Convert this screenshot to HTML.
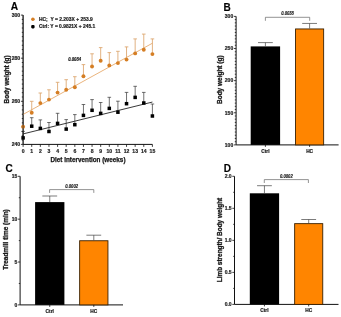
<!DOCTYPE html>
<html><head><meta charset="utf-8"><style>
html,body{margin:0;padding:0;background:#fff;}
body{width:341px;height:317px;overflow:hidden;font-family:"Liberation Sans",sans-serif;}
svg{display:block;will-change:transform;}
</style></head><body>
<svg width="341" height="317" viewBox="0 0 341 317">
<rect width="341" height="317" fill="#fff"/>
<text x="10.8" y="10.1" font-family="Liberation Sans, sans-serif" font-weight="bold" stroke="#222" stroke-width="0.18" font-size="10.2" fill="#000">A</text>
<line x1="23.1" y1="15.100000000000023" x2="23.1" y2="144.4" stroke="#111" stroke-width="1.0"/>
<line x1="20.900000000000002" y1="144.40" x2="23.1" y2="144.40" stroke="#111" stroke-width="0.8"/>
<line x1="21.8" y1="140.09" x2="23.1" y2="140.09" stroke="#111" stroke-width="0.8"/>
<line x1="21.8" y1="135.78" x2="23.1" y2="135.78" stroke="#111" stroke-width="0.8"/>
<line x1="21.8" y1="131.47" x2="23.1" y2="131.47" stroke="#111" stroke-width="0.8"/>
<line x1="21.8" y1="127.16" x2="23.1" y2="127.16" stroke="#111" stroke-width="0.8"/>
<line x1="21.8" y1="122.85" x2="23.1" y2="122.85" stroke="#111" stroke-width="0.8"/>
<line x1="21.8" y1="118.54" x2="23.1" y2="118.54" stroke="#111" stroke-width="0.8"/>
<line x1="21.8" y1="114.23" x2="23.1" y2="114.23" stroke="#111" stroke-width="0.8"/>
<line x1="21.8" y1="109.92" x2="23.1" y2="109.92" stroke="#111" stroke-width="0.8"/>
<line x1="21.8" y1="105.61" x2="23.1" y2="105.61" stroke="#111" stroke-width="0.8"/>
<line x1="20.900000000000002" y1="101.30" x2="23.1" y2="101.30" stroke="#111" stroke-width="0.8"/>
<line x1="21.8" y1="96.99" x2="23.1" y2="96.99" stroke="#111" stroke-width="0.8"/>
<line x1="21.8" y1="92.68" x2="23.1" y2="92.68" stroke="#111" stroke-width="0.8"/>
<line x1="21.8" y1="88.37" x2="23.1" y2="88.37" stroke="#111" stroke-width="0.8"/>
<line x1="21.8" y1="84.06" x2="23.1" y2="84.06" stroke="#111" stroke-width="0.8"/>
<line x1="21.8" y1="79.75" x2="23.1" y2="79.75" stroke="#111" stroke-width="0.8"/>
<line x1="21.8" y1="75.44" x2="23.1" y2="75.44" stroke="#111" stroke-width="0.8"/>
<line x1="21.8" y1="71.13" x2="23.1" y2="71.13" stroke="#111" stroke-width="0.8"/>
<line x1="21.8" y1="66.82" x2="23.1" y2="66.82" stroke="#111" stroke-width="0.8"/>
<line x1="21.8" y1="62.51" x2="23.1" y2="62.51" stroke="#111" stroke-width="0.8"/>
<line x1="20.900000000000002" y1="58.20" x2="23.1" y2="58.20" stroke="#111" stroke-width="0.8"/>
<line x1="21.8" y1="53.89" x2="23.1" y2="53.89" stroke="#111" stroke-width="0.8"/>
<line x1="21.8" y1="49.58" x2="23.1" y2="49.58" stroke="#111" stroke-width="0.8"/>
<line x1="21.8" y1="45.27" x2="23.1" y2="45.27" stroke="#111" stroke-width="0.8"/>
<line x1="21.8" y1="40.96" x2="23.1" y2="40.96" stroke="#111" stroke-width="0.8"/>
<line x1="21.8" y1="36.65" x2="23.1" y2="36.65" stroke="#111" stroke-width="0.8"/>
<line x1="21.8" y1="32.34" x2="23.1" y2="32.34" stroke="#111" stroke-width="0.8"/>
<line x1="21.8" y1="28.03" x2="23.1" y2="28.03" stroke="#111" stroke-width="0.8"/>
<line x1="21.8" y1="23.72" x2="23.1" y2="23.72" stroke="#111" stroke-width="0.8"/>
<line x1="21.8" y1="19.41" x2="23.1" y2="19.41" stroke="#111" stroke-width="0.8"/>
<line x1="20.900000000000002" y1="15.10" x2="23.1" y2="15.10" stroke="#111" stroke-width="0.8"/>
<text x="20.200000000000003" y="146.25" font-family="Liberation Sans, sans-serif" font-weight="bold" stroke="#222" stroke-width="0.18" font-size="5.1" text-anchor="end" fill="#222">240</text>
<text x="20.200000000000003" y="103.15" font-family="Liberation Sans, sans-serif" font-weight="bold" stroke="#222" stroke-width="0.18" font-size="5.1" text-anchor="end" fill="#222">260</text>
<text x="20.200000000000003" y="60.05" font-family="Liberation Sans, sans-serif" font-weight="bold" stroke="#222" stroke-width="0.18" font-size="5.1" text-anchor="end" fill="#222">280</text>
<text x="20.200000000000003" y="16.95" font-family="Liberation Sans, sans-serif" font-weight="bold" stroke="#222" stroke-width="0.18" font-size="5.1" text-anchor="end" fill="#222">300</text>
<line x1="23.1" y1="144.4" x2="152.39999999999998" y2="144.4" stroke="#111" stroke-width="1.0"/>
<line x1="23.10" y1="144.4" x2="23.10" y2="146.9" stroke="#111" stroke-width="0.8"/>
<text x="23.10" y="152.90" font-family="Liberation Sans, sans-serif" font-weight="bold" stroke="#222" stroke-width="0.18" font-size="5.1" text-anchor="middle" fill="#222">0</text>
<line x1="31.72" y1="144.4" x2="31.72" y2="146.9" stroke="#111" stroke-width="0.8"/>
<text x="31.72" y="152.90" font-family="Liberation Sans, sans-serif" font-weight="bold" stroke="#222" stroke-width="0.18" font-size="5.1" text-anchor="middle" fill="#222">1</text>
<line x1="40.34" y1="144.4" x2="40.34" y2="146.9" stroke="#111" stroke-width="0.8"/>
<text x="40.34" y="152.90" font-family="Liberation Sans, sans-serif" font-weight="bold" stroke="#222" stroke-width="0.18" font-size="5.1" text-anchor="middle" fill="#222">2</text>
<line x1="48.96" y1="144.4" x2="48.96" y2="146.9" stroke="#111" stroke-width="0.8"/>
<text x="48.96" y="152.90" font-family="Liberation Sans, sans-serif" font-weight="bold" stroke="#222" stroke-width="0.18" font-size="5.1" text-anchor="middle" fill="#222">3</text>
<line x1="57.58" y1="144.4" x2="57.58" y2="146.9" stroke="#111" stroke-width="0.8"/>
<text x="57.58" y="152.90" font-family="Liberation Sans, sans-serif" font-weight="bold" stroke="#222" stroke-width="0.18" font-size="5.1" text-anchor="middle" fill="#222">4</text>
<line x1="66.20" y1="144.4" x2="66.20" y2="146.9" stroke="#111" stroke-width="0.8"/>
<text x="66.20" y="152.90" font-family="Liberation Sans, sans-serif" font-weight="bold" stroke="#222" stroke-width="0.18" font-size="5.1" text-anchor="middle" fill="#222">5</text>
<line x1="74.82" y1="144.4" x2="74.82" y2="146.9" stroke="#111" stroke-width="0.8"/>
<text x="74.82" y="152.90" font-family="Liberation Sans, sans-serif" font-weight="bold" stroke="#222" stroke-width="0.18" font-size="5.1" text-anchor="middle" fill="#222">6</text>
<line x1="83.44" y1="144.4" x2="83.44" y2="146.9" stroke="#111" stroke-width="0.8"/>
<text x="83.44" y="152.90" font-family="Liberation Sans, sans-serif" font-weight="bold" stroke="#222" stroke-width="0.18" font-size="5.1" text-anchor="middle" fill="#222">7</text>
<line x1="92.06" y1="144.4" x2="92.06" y2="146.9" stroke="#111" stroke-width="0.8"/>
<text x="92.06" y="152.90" font-family="Liberation Sans, sans-serif" font-weight="bold" stroke="#222" stroke-width="0.18" font-size="5.1" text-anchor="middle" fill="#222">8</text>
<line x1="100.68" y1="144.4" x2="100.68" y2="146.9" stroke="#111" stroke-width="0.8"/>
<text x="100.68" y="152.90" font-family="Liberation Sans, sans-serif" font-weight="bold" stroke="#222" stroke-width="0.18" font-size="5.1" text-anchor="middle" fill="#222">9</text>
<line x1="109.30" y1="144.4" x2="109.30" y2="146.9" stroke="#111" stroke-width="0.8"/>
<text x="109.30" y="152.90" font-family="Liberation Sans, sans-serif" font-weight="bold" stroke="#222" stroke-width="0.18" font-size="5.1" text-anchor="middle" fill="#222">10</text>
<line x1="117.92" y1="144.4" x2="117.92" y2="146.9" stroke="#111" stroke-width="0.8"/>
<text x="117.92" y="152.90" font-family="Liberation Sans, sans-serif" font-weight="bold" stroke="#222" stroke-width="0.18" font-size="5.1" text-anchor="middle" fill="#222">11</text>
<line x1="126.54" y1="144.4" x2="126.54" y2="146.9" stroke="#111" stroke-width="0.8"/>
<text x="126.54" y="152.90" font-family="Liberation Sans, sans-serif" font-weight="bold" stroke="#222" stroke-width="0.18" font-size="5.1" text-anchor="middle" fill="#222">12</text>
<line x1="135.16" y1="144.4" x2="135.16" y2="146.9" stroke="#111" stroke-width="0.8"/>
<text x="135.16" y="152.90" font-family="Liberation Sans, sans-serif" font-weight="bold" stroke="#222" stroke-width="0.18" font-size="5.1" text-anchor="middle" fill="#222">13</text>
<line x1="143.78" y1="144.4" x2="143.78" y2="146.9" stroke="#111" stroke-width="0.8"/>
<text x="143.78" y="152.90" font-family="Liberation Sans, sans-serif" font-weight="bold" stroke="#222" stroke-width="0.18" font-size="5.1" text-anchor="middle" fill="#222">14</text>
<line x1="152.40" y1="144.4" x2="152.40" y2="146.9" stroke="#111" stroke-width="0.8"/>
<text x="152.40" y="152.90" font-family="Liberation Sans, sans-serif" font-weight="bold" stroke="#222" stroke-width="0.18" font-size="5.1" text-anchor="middle" fill="#222">15</text>
<text x="88.0" y="161.5" font-family="Liberation Sans, sans-serif" font-weight="bold" stroke="#222" stroke-width="0.25" font-size="6.3" textLength="75" lengthAdjust="spacingAndGlyphs" text-anchor="middle" fill="#111">Diet intervention (weeks)</text>
<text transform="translate(8.6,79.4) rotate(-90)" font-family="Liberation Sans, sans-serif" font-weight="bold" stroke="#222" stroke-width="0.3" font-size="6.3" textLength="48" lengthAdjust="spacingAndGlyphs" text-anchor="middle" fill="#111">Body weight (g)</text>
<circle cx="32.9" cy="19.3" r="1.8" fill="#D57E24"/>
<text x="39.0" y="21.1" font-family="Liberation Sans, sans-serif" font-weight="bold" stroke="#222" stroke-width="0.18" font-size="5.0" textLength="53.8" lengthAdjust="spacingAndGlyphs" fill="#111" xml:space="preserve">HC;  Y = 2.203X + 253.9</text>
<rect x="31.2" y="25.0" width="3.4" height="3.4" rx="1.1" fill="#000"/>
<text x="39.0" y="28.2" font-family="Liberation Sans, sans-serif" font-weight="bold" stroke="#222" stroke-width="0.18" font-size="5.0" textLength="56.2" lengthAdjust="spacingAndGlyphs" fill="#111">Ctrl: Y = 0.9821X + 245.1</text>
<text x="74.7" y="60.8" font-family="Liberation Sans, sans-serif" font-weight="bold" stroke="#222" stroke-width="0.18" font-style="italic" font-size="4.9" textLength="12.8" lengthAdjust="spacingAndGlyphs" text-anchor="middle" fill="#111">0.0084</text>
<line x1="23.1" y1="114.45" x2="152.40" y2="43.23" stroke="#E8AC6E" stroke-width="0.9"/>
<line x1="23.1" y1="133.91" x2="152.40" y2="102.06" stroke="#222" stroke-width="0.9"/>
<line x1="23.10" y1="126.7" x2="23.10" y2="126.7" stroke="#DBA46C" stroke-width="0.85"/>
<line x1="21.30" y1="126.7" x2="24.90" y2="126.7" stroke="#DBA46C" stroke-width="0.85"/>
<circle cx="23.10" cy="126.7" r="1.95" fill="#D57E24"/>
<line x1="31.72" y1="101.3" x2="31.72" y2="112.7" stroke="#DBA46C" stroke-width="0.85"/>
<line x1="29.92" y1="101.3" x2="33.52" y2="101.3" stroke="#DBA46C" stroke-width="0.85"/>
<circle cx="31.72" cy="112.7" r="1.95" fill="#D57E24"/>
<line x1="40.34" y1="93" x2="40.34" y2="103.1" stroke="#DBA46C" stroke-width="0.85"/>
<line x1="38.54" y1="93" x2="42.14" y2="93" stroke="#DBA46C" stroke-width="0.85"/>
<circle cx="40.34" cy="103.1" r="1.95" fill="#D57E24"/>
<line x1="48.96" y1="89.8" x2="48.96" y2="99.6" stroke="#DBA46C" stroke-width="0.85"/>
<line x1="47.16" y1="89.8" x2="50.76" y2="89.8" stroke="#DBA46C" stroke-width="0.85"/>
<circle cx="48.96" cy="99.6" r="1.95" fill="#D57E24"/>
<line x1="57.58" y1="82.3" x2="57.58" y2="92.6" stroke="#DBA46C" stroke-width="0.85"/>
<line x1="55.78" y1="82.3" x2="59.38" y2="82.3" stroke="#DBA46C" stroke-width="0.85"/>
<circle cx="57.58" cy="92.6" r="1.95" fill="#D57E24"/>
<line x1="66.20" y1="79.7" x2="66.20" y2="89.7" stroke="#DBA46C" stroke-width="0.85"/>
<line x1="64.40" y1="79.7" x2="68.00" y2="79.7" stroke="#DBA46C" stroke-width="0.85"/>
<circle cx="66.20" cy="89.7" r="1.95" fill="#D57E24"/>
<line x1="74.82" y1="76.7" x2="74.82" y2="87.2" stroke="#DBA46C" stroke-width="0.85"/>
<line x1="73.02" y1="76.7" x2="76.62" y2="76.7" stroke="#DBA46C" stroke-width="0.85"/>
<circle cx="74.82" cy="87.2" r="1.95" fill="#D57E24"/>
<line x1="83.44" y1="64.6" x2="83.44" y2="76.3" stroke="#DBA46C" stroke-width="0.85"/>
<line x1="81.64" y1="64.6" x2="85.24" y2="64.6" stroke="#DBA46C" stroke-width="0.85"/>
<circle cx="83.44" cy="76.3" r="1.95" fill="#D57E24"/>
<line x1="92.06" y1="53.8" x2="92.06" y2="66.5" stroke="#DBA46C" stroke-width="0.85"/>
<line x1="90.26" y1="53.8" x2="93.86" y2="53.8" stroke="#DBA46C" stroke-width="0.85"/>
<circle cx="92.06" cy="66.5" r="1.95" fill="#D57E24"/>
<line x1="100.68" y1="47.6" x2="100.68" y2="60.8" stroke="#DBA46C" stroke-width="0.85"/>
<line x1="98.88" y1="47.6" x2="102.48" y2="47.6" stroke="#DBA46C" stroke-width="0.85"/>
<circle cx="100.68" cy="60.8" r="1.95" fill="#D57E24"/>
<line x1="109.30" y1="52.6" x2="109.30" y2="65.4" stroke="#DBA46C" stroke-width="0.85"/>
<line x1="107.50" y1="52.6" x2="111.10" y2="52.6" stroke="#DBA46C" stroke-width="0.85"/>
<circle cx="109.30" cy="65.4" r="1.95" fill="#D57E24"/>
<line x1="117.92" y1="51.3" x2="117.92" y2="63.1" stroke="#DBA46C" stroke-width="0.85"/>
<line x1="116.12" y1="51.3" x2="119.72" y2="51.3" stroke="#DBA46C" stroke-width="0.85"/>
<circle cx="117.92" cy="63.1" r="1.95" fill="#D57E24"/>
<line x1="126.54" y1="46.9" x2="126.54" y2="59.6" stroke="#DBA46C" stroke-width="0.85"/>
<line x1="124.74" y1="46.9" x2="128.34" y2="46.9" stroke="#DBA46C" stroke-width="0.85"/>
<circle cx="126.54" cy="59.6" r="1.95" fill="#D57E24"/>
<line x1="135.16" y1="38.9" x2="135.16" y2="53.4" stroke="#DBA46C" stroke-width="0.85"/>
<line x1="133.36" y1="38.9" x2="136.96" y2="38.9" stroke="#DBA46C" stroke-width="0.85"/>
<circle cx="135.16" cy="53.4" r="1.95" fill="#D57E24"/>
<line x1="143.78" y1="34.1" x2="143.78" y2="49.7" stroke="#DBA46C" stroke-width="0.85"/>
<line x1="141.98" y1="34.1" x2="145.58" y2="34.1" stroke="#DBA46C" stroke-width="0.85"/>
<circle cx="143.78" cy="49.7" r="1.95" fill="#D57E24"/>
<line x1="152.40" y1="38.9" x2="152.40" y2="54.1" stroke="#DBA46C" stroke-width="0.85"/>
<line x1="150.60" y1="38.9" x2="154.20" y2="38.9" stroke="#DBA46C" stroke-width="0.85"/>
<circle cx="152.40" cy="54.1" r="1.95" fill="#D57E24"/>
<line x1="23.10" y1="131.4" x2="23.10" y2="137.9" stroke="#333" stroke-width="0.7"/>
<line x1="21.30" y1="131.4" x2="24.90" y2="131.4" stroke="#333" stroke-width="0.7"/>
<rect x="21.35" y="136.15" width="3.5" height="3.5" fill="#000"/>
<line x1="31.72" y1="117.7" x2="31.72" y2="126.2" stroke="#333" stroke-width="0.7"/>
<line x1="29.92" y1="117.7" x2="33.52" y2="117.7" stroke="#333" stroke-width="0.7"/>
<rect x="29.97" y="124.45" width="3.5" height="3.5" fill="#000"/>
<line x1="40.34" y1="119.9" x2="40.34" y2="128.4" stroke="#333" stroke-width="0.7"/>
<line x1="38.54" y1="119.9" x2="42.14" y2="119.9" stroke="#333" stroke-width="0.7"/>
<rect x="38.59" y="126.65" width="3.5" height="3.5" fill="#000"/>
<line x1="48.96" y1="122.5" x2="48.96" y2="131.5" stroke="#333" stroke-width="0.7"/>
<line x1="47.16" y1="122.5" x2="50.76" y2="122.5" stroke="#333" stroke-width="0.7"/>
<rect x="47.21" y="129.75" width="3.5" height="3.5" fill="#000"/>
<line x1="57.58" y1="113.3" x2="57.58" y2="123.4" stroke="#333" stroke-width="0.7"/>
<line x1="55.78" y1="113.3" x2="59.38" y2="113.3" stroke="#333" stroke-width="0.7"/>
<rect x="55.83" y="121.65" width="3.5" height="3.5" fill="#000"/>
<line x1="66.20" y1="119.6" x2="66.20" y2="129.1" stroke="#333" stroke-width="0.7"/>
<line x1="64.40" y1="119.6" x2="68.00" y2="119.6" stroke="#333" stroke-width="0.7"/>
<rect x="64.45" y="127.35" width="3.5" height="3.5" fill="#000"/>
<line x1="74.82" y1="114.6" x2="74.82" y2="124.7" stroke="#333" stroke-width="0.7"/>
<line x1="73.02" y1="114.6" x2="76.62" y2="114.6" stroke="#333" stroke-width="0.7"/>
<rect x="73.07" y="122.95" width="3.5" height="3.5" fill="#000"/>
<line x1="83.44" y1="104.5" x2="83.44" y2="115.4" stroke="#333" stroke-width="0.7"/>
<line x1="81.64" y1="104.5" x2="85.24" y2="104.5" stroke="#333" stroke-width="0.7"/>
<rect x="81.69" y="113.65" width="3.5" height="3.5" fill="#000"/>
<line x1="92.06" y1="99.6" x2="92.06" y2="110.3" stroke="#333" stroke-width="0.7"/>
<line x1="90.26" y1="99.6" x2="93.86" y2="99.6" stroke="#333" stroke-width="0.7"/>
<rect x="90.31" y="108.55" width="3.5" height="3.5" fill="#000"/>
<line x1="100.68" y1="102.5" x2="100.68" y2="113.4" stroke="#333" stroke-width="0.7"/>
<line x1="98.88" y1="102.5" x2="102.48" y2="102.5" stroke="#333" stroke-width="0.7"/>
<rect x="98.93" y="111.65" width="3.5" height="3.5" fill="#000"/>
<line x1="109.30" y1="97.3" x2="109.30" y2="108.4" stroke="#333" stroke-width="0.7"/>
<line x1="107.50" y1="97.3" x2="111.10" y2="97.3" stroke="#333" stroke-width="0.7"/>
<rect x="107.55" y="106.65" width="3.5" height="3.5" fill="#000"/>
<line x1="117.92" y1="101.2" x2="117.92" y2="112.2" stroke="#333" stroke-width="0.7"/>
<line x1="116.12" y1="101.2" x2="119.72" y2="101.2" stroke="#333" stroke-width="0.7"/>
<rect x="116.17" y="110.45" width="3.5" height="3.5" fill="#000"/>
<line x1="126.54" y1="92.4" x2="126.54" y2="103.7" stroke="#333" stroke-width="0.7"/>
<line x1="124.74" y1="92.4" x2="128.34" y2="92.4" stroke="#333" stroke-width="0.7"/>
<rect x="124.79" y="101.95" width="3.5" height="3.5" fill="#000"/>
<line x1="135.16" y1="86.3" x2="135.16" y2="97.4" stroke="#333" stroke-width="0.7"/>
<line x1="133.36" y1="86.3" x2="136.96" y2="86.3" stroke="#333" stroke-width="0.7"/>
<rect x="133.41" y="95.65" width="3.5" height="3.5" fill="#000"/>
<line x1="143.78" y1="92.4" x2="143.78" y2="103.0" stroke="#333" stroke-width="0.7"/>
<line x1="141.98" y1="92.4" x2="145.58" y2="92.4" stroke="#333" stroke-width="0.7"/>
<rect x="142.03" y="101.25" width="3.5" height="3.5" fill="#000"/>
<line x1="152.40" y1="104.0" x2="152.40" y2="116.0" stroke="#333" stroke-width="0.7"/>
<line x1="150.60" y1="104.0" x2="154.20" y2="104.0" stroke="#333" stroke-width="0.7"/>
<rect x="150.65" y="114.25" width="3.5" height="3.5" fill="#000"/>
<line x1="23.1" y1="15.100000000000023" x2="23.1" y2="144.4" stroke="#111" stroke-width="0.8" stroke-opacity="0.7"/>
<text x="223.6" y="10.7" font-family="Liberation Sans, sans-serif" font-weight="bold" stroke="#222" stroke-width="0.18" font-size="10.0" fill="#000">B</text>
<line x1="236.1" y1="16.4" x2="236.1" y2="144.9" stroke="#111" stroke-width="1.0"/>
<line x1="233.9" y1="144.90" x2="236.1" y2="144.90" stroke="#111" stroke-width="0.8"/>
<text x="233.2" y="146.70" font-family="Liberation Sans, sans-serif" font-weight="bold" stroke="#222" stroke-width="0.18" font-size="5.0" text-anchor="end" fill="#222">100</text>
<line x1="234.79999999999998" y1="141.69" x2="236.1" y2="141.69" stroke="#111" stroke-width="0.8"/>
<line x1="234.79999999999998" y1="138.47" x2="236.1" y2="138.47" stroke="#111" stroke-width="0.8"/>
<line x1="234.79999999999998" y1="135.26" x2="236.1" y2="135.26" stroke="#111" stroke-width="0.8"/>
<line x1="234.79999999999998" y1="132.05" x2="236.1" y2="132.05" stroke="#111" stroke-width="0.8"/>
<line x1="234.79999999999998" y1="128.84" x2="236.1" y2="128.84" stroke="#111" stroke-width="0.8"/>
<line x1="234.79999999999998" y1="125.62" x2="236.1" y2="125.62" stroke="#111" stroke-width="0.8"/>
<line x1="234.79999999999998" y1="122.41" x2="236.1" y2="122.41" stroke="#111" stroke-width="0.8"/>
<line x1="234.79999999999998" y1="119.20" x2="236.1" y2="119.20" stroke="#111" stroke-width="0.8"/>
<line x1="234.79999999999998" y1="115.99" x2="236.1" y2="115.99" stroke="#111" stroke-width="0.8"/>
<line x1="233.9" y1="112.78" x2="236.1" y2="112.78" stroke="#111" stroke-width="0.8"/>
<text x="233.2" y="114.58" font-family="Liberation Sans, sans-serif" font-weight="bold" stroke="#222" stroke-width="0.18" font-size="5.0" text-anchor="end" fill="#222">150</text>
<line x1="234.79999999999998" y1="109.56" x2="236.1" y2="109.56" stroke="#111" stroke-width="0.8"/>
<line x1="234.79999999999998" y1="106.35" x2="236.1" y2="106.35" stroke="#111" stroke-width="0.8"/>
<line x1="234.79999999999998" y1="103.14" x2="236.1" y2="103.14" stroke="#111" stroke-width="0.8"/>
<line x1="234.79999999999998" y1="99.93" x2="236.1" y2="99.93" stroke="#111" stroke-width="0.8"/>
<line x1="234.79999999999998" y1="96.71" x2="236.1" y2="96.71" stroke="#111" stroke-width="0.8"/>
<line x1="234.79999999999998" y1="93.50" x2="236.1" y2="93.50" stroke="#111" stroke-width="0.8"/>
<line x1="234.79999999999998" y1="90.29" x2="236.1" y2="90.29" stroke="#111" stroke-width="0.8"/>
<line x1="234.79999999999998" y1="87.08" x2="236.1" y2="87.08" stroke="#111" stroke-width="0.8"/>
<line x1="234.79999999999998" y1="83.86" x2="236.1" y2="83.86" stroke="#111" stroke-width="0.8"/>
<line x1="233.9" y1="80.65" x2="236.1" y2="80.65" stroke="#111" stroke-width="0.8"/>
<text x="233.2" y="82.45" font-family="Liberation Sans, sans-serif" font-weight="bold" stroke="#222" stroke-width="0.18" font-size="5.0" text-anchor="end" fill="#222">200</text>
<line x1="234.79999999999998" y1="77.44" x2="236.1" y2="77.44" stroke="#111" stroke-width="0.8"/>
<line x1="234.79999999999998" y1="74.22" x2="236.1" y2="74.22" stroke="#111" stroke-width="0.8"/>
<line x1="234.79999999999998" y1="71.01" x2="236.1" y2="71.01" stroke="#111" stroke-width="0.8"/>
<line x1="234.79999999999998" y1="67.80" x2="236.1" y2="67.80" stroke="#111" stroke-width="0.8"/>
<line x1="234.79999999999998" y1="64.59" x2="236.1" y2="64.59" stroke="#111" stroke-width="0.8"/>
<line x1="234.79999999999998" y1="61.38" x2="236.1" y2="61.38" stroke="#111" stroke-width="0.8"/>
<line x1="234.79999999999998" y1="58.16" x2="236.1" y2="58.16" stroke="#111" stroke-width="0.8"/>
<line x1="234.79999999999998" y1="54.95" x2="236.1" y2="54.95" stroke="#111" stroke-width="0.8"/>
<line x1="234.79999999999998" y1="51.74" x2="236.1" y2="51.74" stroke="#111" stroke-width="0.8"/>
<line x1="233.9" y1="48.53" x2="236.1" y2="48.53" stroke="#111" stroke-width="0.8"/>
<text x="233.2" y="50.33" font-family="Liberation Sans, sans-serif" font-weight="bold" stroke="#222" stroke-width="0.18" font-size="5.0" text-anchor="end" fill="#222">250</text>
<line x1="234.79999999999998" y1="45.31" x2="236.1" y2="45.31" stroke="#111" stroke-width="0.8"/>
<line x1="234.79999999999998" y1="42.10" x2="236.1" y2="42.10" stroke="#111" stroke-width="0.8"/>
<line x1="234.79999999999998" y1="38.89" x2="236.1" y2="38.89" stroke="#111" stroke-width="0.8"/>
<line x1="234.79999999999998" y1="35.68" x2="236.1" y2="35.68" stroke="#111" stroke-width="0.8"/>
<line x1="234.79999999999998" y1="32.46" x2="236.1" y2="32.46" stroke="#111" stroke-width="0.8"/>
<line x1="234.79999999999998" y1="29.25" x2="236.1" y2="29.25" stroke="#111" stroke-width="0.8"/>
<line x1="234.79999999999998" y1="26.04" x2="236.1" y2="26.04" stroke="#111" stroke-width="0.8"/>
<line x1="234.79999999999998" y1="22.83" x2="236.1" y2="22.83" stroke="#111" stroke-width="0.8"/>
<line x1="234.79999999999998" y1="19.61" x2="236.1" y2="19.61" stroke="#111" stroke-width="0.8"/>
<line x1="233.9" y1="16.40" x2="236.1" y2="16.40" stroke="#111" stroke-width="0.8"/>
<text x="233.2" y="18.20" font-family="Liberation Sans, sans-serif" font-weight="bold" stroke="#222" stroke-width="0.18" font-size="5.0" text-anchor="end" fill="#222">300</text>
<line x1="236.1" y1="144.9" x2="338.6" y2="144.9" stroke="#111" stroke-width="1.0"/>
<text transform="translate(222.0,79.7) rotate(-90)" font-family="Liberation Sans, sans-serif" font-weight="bold" stroke="#222" stroke-width="0.3" font-size="6.3" textLength="48.5" lengthAdjust="spacingAndGlyphs" text-anchor="middle" fill="#111">Body weight (g)</text>
<rect x="250.7" y="46.4" width="29.400000000000034" height="98.5" fill="#000"/>
<line x1="265.4" y1="42.6" x2="265.4" y2="46.4" stroke="#444" stroke-width="0.7"/>
<line x1="258.0" y1="42.6" x2="272.79999999999995" y2="42.6" stroke="#444" stroke-width="0.7"/>
<line x1="265.4" y1="144.9" x2="265.4" y2="146.9" stroke="#111" stroke-width="0.8"/>
<text x="265.4" y="152.90" font-family="Liberation Sans, sans-serif" font-weight="bold" stroke="#222" stroke-width="0.18" font-size="4.8" text-anchor="middle" fill="#111">Ctrl</text>
<rect x="295.55" y="28.95" width="28.1" height="115.95" fill="#FF8500" stroke="#3a2000" stroke-width="0.9"/>
<line x1="309.6" y1="23.45" x2="309.6" y2="28.5" stroke="#444" stroke-width="0.7"/>
<line x1="302.20000000000005" y1="23.45" x2="317.0" y2="23.45" stroke="#444" stroke-width="0.7"/>
<line x1="309.6" y1="144.9" x2="309.6" y2="146.9" stroke="#111" stroke-width="0.8"/>
<text x="309.6" y="152.90" font-family="Liberation Sans, sans-serif" font-weight="bold" stroke="#222" stroke-width="0.18" font-size="4.8" text-anchor="middle" fill="#111">HC</text>
<polyline points="265.4,20.8 265.4,17.3 309.7,17.3 309.7,20.8" fill="none" stroke="#666" stroke-width="0.7"/>
<text x="287.54999999999995" y="15.35" font-family="Liberation Sans, sans-serif" font-weight="bold" stroke="#222" stroke-width="0.18" stroke-opacity="0.7" font-style="italic" font-size="4.9" textLength="12.8" lengthAdjust="spacingAndGlyphs" text-anchor="middle" fill="#111">0.0038</text>
<text x="5.5" y="172.0" font-family="Liberation Sans, sans-serif" font-weight="bold" stroke="#222" stroke-width="0.18" font-size="10.0" fill="#000">C</text>
<line x1="20.1" y1="176.3" x2="20.1" y2="304.9" stroke="#111" stroke-width="1.0"/>
<line x1="17.900000000000002" y1="304.90" x2="20.1" y2="304.90" stroke="#111" stroke-width="0.8"/>
<text x="17.200000000000003" y="306.70" font-family="Liberation Sans, sans-serif" font-weight="bold" stroke="#222" stroke-width="0.18" font-size="5.0" text-anchor="end" fill="#222">0</text>
<line x1="18.8" y1="283.47" x2="20.1" y2="283.47" stroke="#111" stroke-width="0.8"/>
<line x1="17.900000000000002" y1="262.03" x2="20.1" y2="262.03" stroke="#111" stroke-width="0.8"/>
<text x="17.200000000000003" y="263.83" font-family="Liberation Sans, sans-serif" font-weight="bold" stroke="#222" stroke-width="0.18" font-size="5.0" text-anchor="end" fill="#222">5</text>
<line x1="18.8" y1="240.60" x2="20.1" y2="240.60" stroke="#111" stroke-width="0.8"/>
<line x1="17.900000000000002" y1="219.17" x2="20.1" y2="219.17" stroke="#111" stroke-width="0.8"/>
<text x="17.200000000000003" y="220.97" font-family="Liberation Sans, sans-serif" font-weight="bold" stroke="#222" stroke-width="0.18" font-size="5.0" text-anchor="end" fill="#222">10</text>
<line x1="18.8" y1="197.73" x2="20.1" y2="197.73" stroke="#111" stroke-width="0.8"/>
<line x1="17.900000000000002" y1="176.30" x2="20.1" y2="176.30" stroke="#111" stroke-width="0.8"/>
<text x="17.200000000000003" y="178.10" font-family="Liberation Sans, sans-serif" font-weight="bold" stroke="#222" stroke-width="0.18" font-size="5.0" text-anchor="end" fill="#222">15</text>
<line x1="20.1" y1="304.9" x2="123.0" y2="304.9" stroke="#111" stroke-width="1.0"/>
<text transform="translate(8.4,239.5) rotate(-90)" font-family="Liberation Sans, sans-serif" font-weight="bold" stroke="#222" stroke-width="0.3" font-size="6.3" textLength="60.5" lengthAdjust="spacingAndGlyphs" text-anchor="middle" fill="#111">Treadmill time (min)</text>
<rect x="35.1" y="202.1" width="29.300000000000004" height="102.79999999999998" fill="#000"/>
<line x1="49.75" y1="196.0" x2="49.75" y2="202.1" stroke="#444" stroke-width="0.7"/>
<line x1="42.35" y1="196.0" x2="57.15" y2="196.0" stroke="#444" stroke-width="0.7"/>
<line x1="49.75" y1="304.9" x2="49.75" y2="306.9" stroke="#111" stroke-width="0.8"/>
<text x="49.75" y="312.90" font-family="Liberation Sans, sans-serif" font-weight="bold" stroke="#222" stroke-width="0.18" font-size="4.8" text-anchor="middle" fill="#111">Ctrl</text>
<rect x="79.65" y="240.75" width="28.300000000000004" height="64.14999999999996" fill="#FF8500" stroke="#3a2000" stroke-width="0.9"/>
<line x1="93.80000000000001" y1="235.2" x2="93.80000000000001" y2="240.3" stroke="#444" stroke-width="0.7"/>
<line x1="86.4" y1="235.2" x2="101.20000000000002" y2="235.2" stroke="#444" stroke-width="0.7"/>
<line x1="93.80000000000001" y1="304.9" x2="93.80000000000001" y2="306.9" stroke="#111" stroke-width="0.8"/>
<text x="93.80000000000001" y="312.90" font-family="Liberation Sans, sans-serif" font-weight="bold" stroke="#222" stroke-width="0.18" font-size="4.8" text-anchor="middle" fill="#111">HC</text>
<polyline points="49.6,192.9 49.6,189.6 93.8,189.6 93.8,192.9" fill="none" stroke="#666" stroke-width="0.7"/>
<text x="71.7" y="187.65" font-family="Liberation Sans, sans-serif" font-weight="bold" stroke="#222" stroke-width="0.18" stroke-opacity="0.7" font-style="italic" font-size="4.9" textLength="12.8" lengthAdjust="spacingAndGlyphs" text-anchor="middle" fill="#111">0.0002</text>
<text x="223.8" y="171.7" font-family="Liberation Sans, sans-serif" font-weight="bold" stroke="#222" stroke-width="0.18" font-size="10.0" fill="#000">D</text>
<line x1="234.5" y1="176.3" x2="234.5" y2="304.4" stroke="#111" stroke-width="1.0"/>
<line x1="232.3" y1="304.40" x2="234.5" y2="304.40" stroke="#111" stroke-width="0.8"/>
<text x="231.6" y="306.20" font-family="Liberation Sans, sans-serif" font-weight="bold" stroke="#222" stroke-width="0.18" font-size="5.0" text-anchor="end" fill="#222">0.0</text>
<line x1="233.2" y1="288.39" x2="234.5" y2="288.39" stroke="#111" stroke-width="0.8"/>
<line x1="232.3" y1="272.38" x2="234.5" y2="272.38" stroke="#111" stroke-width="0.8"/>
<text x="231.6" y="274.18" font-family="Liberation Sans, sans-serif" font-weight="bold" stroke="#222" stroke-width="0.18" font-size="5.0" text-anchor="end" fill="#222">0.5</text>
<line x1="233.2" y1="256.36" x2="234.5" y2="256.36" stroke="#111" stroke-width="0.8"/>
<line x1="232.3" y1="240.35" x2="234.5" y2="240.35" stroke="#111" stroke-width="0.8"/>
<text x="231.6" y="242.15" font-family="Liberation Sans, sans-serif" font-weight="bold" stroke="#222" stroke-width="0.18" font-size="5.0" text-anchor="end" fill="#222">1.0</text>
<line x1="233.2" y1="224.34" x2="234.5" y2="224.34" stroke="#111" stroke-width="0.8"/>
<line x1="232.3" y1="208.32" x2="234.5" y2="208.32" stroke="#111" stroke-width="0.8"/>
<text x="231.6" y="210.12" font-family="Liberation Sans, sans-serif" font-weight="bold" stroke="#222" stroke-width="0.18" font-size="5.0" text-anchor="end" fill="#222">1.5</text>
<line x1="233.2" y1="192.31" x2="234.5" y2="192.31" stroke="#111" stroke-width="0.8"/>
<line x1="232.3" y1="176.30" x2="234.5" y2="176.30" stroke="#111" stroke-width="0.8"/>
<text x="231.6" y="178.10" font-family="Liberation Sans, sans-serif" font-weight="bold" stroke="#222" stroke-width="0.18" font-size="5.0" text-anchor="end" fill="#222">2.0</text>
<line x1="234.5" y1="304.4" x2="338.5" y2="304.4" stroke="#111" stroke-width="1.0"/>
<text transform="translate(222.4,240.0) rotate(-90)" font-family="Liberation Sans, sans-serif" font-weight="bold" stroke="#222" stroke-width="0.3" font-size="6.3" textLength="84.5" lengthAdjust="spacingAndGlyphs" text-anchor="middle" fill="#111">Limb strength/ Body weight</text>
<rect x="249.8" y="193.3" width="29.30000000000001" height="111.09999999999997" fill="#000"/>
<line x1="264.45000000000005" y1="185.7" x2="264.45000000000005" y2="193.3" stroke="#444" stroke-width="0.7"/>
<line x1="257.05000000000007" y1="185.7" x2="271.85" y2="185.7" stroke="#444" stroke-width="0.7"/>
<line x1="264.45000000000005" y1="304.4" x2="264.45000000000005" y2="306.4" stroke="#111" stroke-width="0.8"/>
<text x="264.45000000000005" y="312.40" font-family="Liberation Sans, sans-serif" font-weight="bold" stroke="#222" stroke-width="0.18" font-size="4.8" text-anchor="middle" fill="#111">Ctrl</text>
<rect x="294.65" y="223.64999999999998" width="28.1" height="80.74999999999999" fill="#FF8500" stroke="#3a2000" stroke-width="0.9"/>
<line x1="308.7" y1="219.5" x2="308.7" y2="223.2" stroke="#444" stroke-width="0.7"/>
<line x1="301.3" y1="219.5" x2="316.09999999999997" y2="219.5" stroke="#444" stroke-width="0.7"/>
<line x1="308.7" y1="304.4" x2="308.7" y2="306.4" stroke="#111" stroke-width="0.8"/>
<text x="308.7" y="312.40" font-family="Liberation Sans, sans-serif" font-weight="bold" stroke="#222" stroke-width="0.18" font-size="4.8" text-anchor="middle" fill="#111">HC</text>
<polyline points="264.3,183.0 264.3,179.6 308.4,179.6 308.4,183.0" fill="none" stroke="#666" stroke-width="0.7"/>
<text x="286.35" y="177.65" font-family="Liberation Sans, sans-serif" font-weight="bold" stroke="#222" stroke-width="0.18" stroke-opacity="0.7" font-style="italic" font-size="4.9" textLength="12.8" lengthAdjust="spacingAndGlyphs" text-anchor="middle" fill="#111">0.0002</text>
</svg>
</body></html>
